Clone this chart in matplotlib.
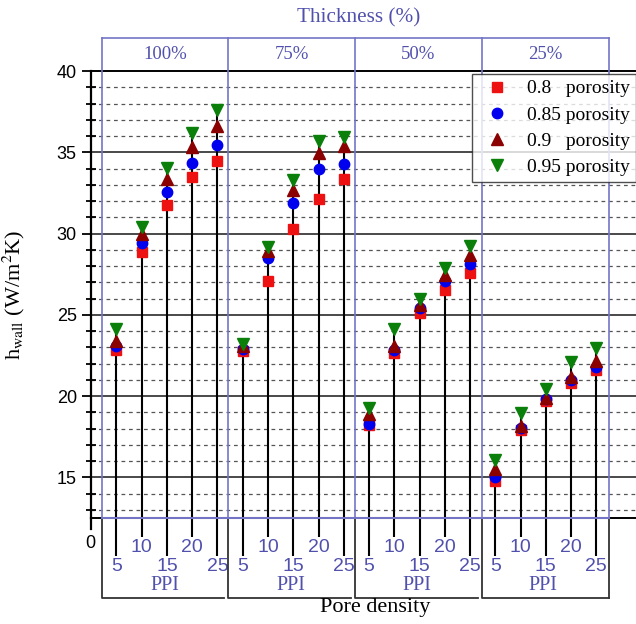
import numpy as np
import matplotlib
matplotlib.use("Agg")
import matplotlib.pyplot as plt
from matplotlib.transforms import blended_transform_factory

# data
thickness = ["100%", "75%", "50%", "25%"]
ppi = [5, 10, 15, 20, 25]
porosity_labels = ["0.8   porosity", "0.85 porosity", "0.9   porosity", "0.95 porosity"]

h_080 = [22.85, 28.86, 31.78, 33.45, 34.49,
         22.75, 27.1, 30.3, 32.14, 33.35,
         18.2, 22.65, 25.1, 26.55, 27.58,
         14.8, 17.9, 19.7, 20.8, 21.6]
h_085 = [23.1, 29.43, 32.53, 34.33, 35.45,
         22.9, 28.5, 31.9, 33.96, 34.29,
         18.3, 22.85, 25.4, 27.06, 28.13,
         15.02, 18.05, 19.8, 20.99, 21.8]
h_090 = [23.4, 30.0, 33.37, 35.3, 36.6,
         23.1, 28.9, 32.7, 34.94, 35.4,
         18.9, 23.1, 25.6, 27.47, 28.7,
         15.53, 18.15, 19.9, 21.2, 22.16]
h_095 = [24.14, 30.4, 34.02, 36.2, 37.6,
         23.2, 29.2, 33.27, 35.7, 35.96,
         19.26, 24.1, 26.0, 27.9, 29.26,
         16.09, 18.93, 20.41, 22.12, 22.98]

plt.rcParams["mathtext.fontset"] = "stix"
SERIF = "Liberation Serif"
SANS = "Liberation Sans"
BLUE_TXT = "#5151ad"
BLUE_LN = "#7474c6"

fig = plt.figure(figsize=(6.36, 6.24), dpi=100)
ax = fig.add_axes([0.1426, 0.1699, 0.8745, 0.7163])

x = np.arange(len(thickness) * len(ppi))
series = [h_080, h_085, h_090, h_095]
styles = [("s", "#ee1111", 6.5), ("o", "#0000ee", 7.5), ("^", "#8b0000", 8.5), ("v", "#0a800a", 8.5)]

ymin, ymax = 12.5, 40
ax.set_ylim(ymin, ymax)
ax.set_xlim(-1.02, 21)

# grid lines
for v in range(15, 40, 5):
    ax.axhline(v, color="#2a2a2a", lw=1.2, zorder=1)
for v in range(13, 40):
    if v % 5:
        ax.axhline(v, color="#555555", lw=0.9, ls=(0, (3, 3)), zorder=1)

# stems
tops = np.max(np.array(series), axis=0)
ax.vlines(x, ymin, tops, color="black", lw=1.5, zorder=2)

for vals, (m, c, ms), lab in zip(series, styles, porosity_labels):
    ax.plot(x, vals, ls="none", marker=m, color=c, ms=ms, label=lab, zorder=4)

# group boundaries and boxes
tr = blended_transform_factory(ax.transData, ax.transAxes)
bounds = [-0.57, 4.43, 9.45, 14.47, 19.5]
for b in bounds:
    ax.plot([b, b], [0, 1.0738], transform=tr, color=BLUE_LN, lw=1.2, clip_on=False, zorder=3)
ax.plot([bounds[0], bounds[-1]], [1.0738, 1.0738], transform=tr, color=BLUE_LN, lw=1.2, clip_on=False)
ax.plot([bounds[0], bounds[-1]], [0, 0], transform=tr, color=BLUE_LN, lw=1.5, clip_on=False, zorder=6)
for k, name in enumerate(thickness):
    ax.text((bounds[k] + bounds[k + 1]) / 2, 1.036, name, transform=tr, ha="center", va="center",
            color=BLUE_TXT, fontsize=13.5, family=SERIF)
    # brackets below
    right = bounds[k + 1] - 0.17 if k < len(thickness) - 1 else bounds[k + 1]
    ax.plot([bounds[k], bounds[k], right], [0, -0.179, -0.179], transform=tr,
            color="#333333", lw=1.3, clip_on=False)
    if k == len(thickness) - 1:
        ax.plot([right, right], [0, -0.179], transform=tr, color="#333333", lw=1.3, clip_on=False)
    ax.text(5 * k + 1.9, -0.152, "PPI", transform=tr, ha="center", va="center",
            color=BLUE_TXT, fontsize=14.5, family=SERIF)

ax.text(0.481, 1.1186, "Thickness (%)", transform=ax.transAxes, ha="center", va="center",
        color=BLUE_TXT, fontsize=15.3, family=SERIF)

# x ticks: 5,15,25 long, 10,20 short
labels = ppi * len(thickness)
long_pos = [i for i in x if labels[i] % 10 == 5]
short_pos = [i for i in x if labels[i] % 10 == 0]
ax.set_xticks(long_pos)
ax.set_xticklabels([str(labels[i]) for i in long_pos])
ax.set_xticks(short_pos, minor=True)
ax.set_xticklabels([str(labels[i]) for i in short_pos], minor=True)
ax.tick_params(axis="x", which="major", direction="out", length=27.5, width=1.5, pad=1.5,
               labelsize=14, labelcolor=BLUE_TXT)
ax.tick_params(axis="x", which="minor", direction="out", length=13.7, width=1.5, pad=1.5,
               labelsize=14, labelcolor=BLUE_TXT)
for t in ax.get_xticklabels(which="both"):
    t.set_family(SANS)

# y ticks
ax.set_yticks(range(15, 41, 5))
ax.set_yticks([v for v in range(13, 40) if v % 5], minor=True)
ax.tick_params(axis="y", which="major", direction="out", length=6.5, width=1.3, labelsize=13)
ax.tick_params(axis="y", which="minor", direction="inout", length=6.5, width=1.3)
for t in ax.get_yticklabels():
    t.set_family(SANS)

ax.spines["right"].set_visible(False)
ax.spines["left"].set_linewidth(1.6)
ax.spines["top"].set_linewidth(1.4)
ax.spines["bottom"].set_linewidth(1.4)

# broken axis down to 0
ax.plot([0, 0], [0, -0.024], transform=ax.transAxes, color="black", lw=1.6, clip_on=False)
ax.text(0.0, -0.056, "0", transform=ax.transAxes, ha="center", va="center", fontsize=13, family=SANS)

ax.set_ylabel(r"h$_{\rm wall}$ (W/m$^2$K)", fontsize=16, family=SERIF)
ax.yaxis.set_label_coords(-0.1145, 0.5)
ax.text(0.511, -0.2013, "Pore density", transform=ax.transAxes, ha="center", va="center",
        fontsize=16, family=SERIF)

leg = ax.legend(loc="upper left", bbox_to_anchor=(0.6855, 0.9933), borderaxespad=0,
                prop={"family": SERIF, "size": 14}, frameon=True, fancybox=False,
                borderpad=0.3, handlelength=2.0, handletextpad=0.53, labelspacing=0.44,
                numpoints=1)
leg.get_frame().set_edgecolor("#222222")
leg.get_frame().set_linewidth(1.0)
leg.set_zorder(10)

fig.savefig("out.png", dpi=100)
